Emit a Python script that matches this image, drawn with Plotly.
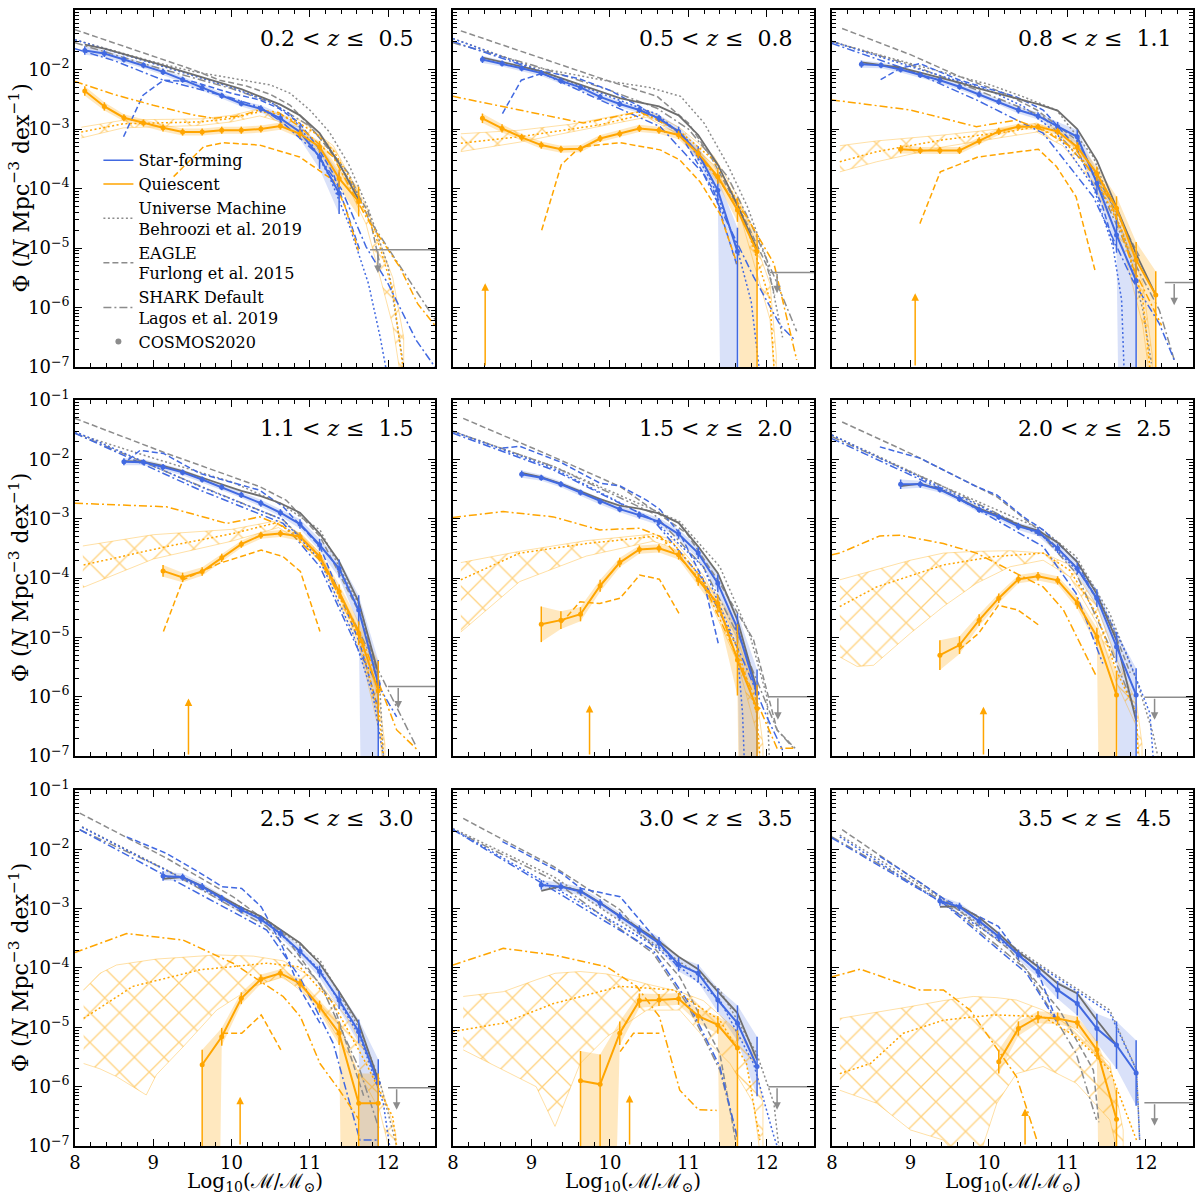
import plotly.graph_objects as go
from plotly.subplots import make_subplots

# ---------------- data (log10 Phi) ----------------
X_RANGE = [8.0, 12.6]
X_TICKS = [8, 9, 10, 11, 12]
Y_TICK_EXP = [-7, -6, -5, -4, -3, -2, -1]
M_BINS = [8.125, 8.375, 8.625, 8.875, 9.125, 9.375, 9.625, 9.875, 10.125,
          10.375, 10.625, 10.875, 11.125, 11.375, 11.625, 11.875, 12.125]
Z_LO = [0.2, 0.5, 0.8, 1.1, 1.5, 2.0, 2.5, 3.0, 3.5]
Z_HI = [0.5, 0.8, 1.1, 1.5, 2.0, 2.5, 3.0, 3.5, 4.5]

# COSMOS2020 star-forming
SF_START = [0, 1, 1, 2, 3, 3, 4, 4, 5]
SF_LOGPHI = [
    [-1.68, -1.73, -1.83, -1.93, -2.04, -2.17, -2.30, -2.44, -2.57, -2.66, -2.82, -3.05, -3.47, -4.08],
    [-1.83, -1.90, -1.98, -2.06, -2.19, -2.30, -2.46, -2.58, -2.68, -2.82, -3.04, -3.41, -4.03, -5.06],
    [-1.91, -1.93, -2.00, -2.09, -2.18, -2.29, -2.42, -2.54, -2.68, -2.78, -2.96, -3.13, -3.91, -4.78, -5.55],
    [-2.04, -2.05, -2.13, -2.22, -2.34, -2.47, -2.60, -2.74, -2.90, -3.09, -3.44, -3.84, -4.54, -5.78],
    [-2.25, -2.31, -2.42, -2.56, -2.71, -2.84, -2.94, -3.05, -3.26, -3.58, -4.09, -4.85, -5.94],
    [-2.42, -2.42, -2.51, -2.67, -2.85, -2.97, -3.13, -3.22, -3.50, -3.84, -4.34, -5.16, -5.97],
    [-2.45, -2.47, -2.63, -2.83, -3.02, -3.18, -3.42, -3.72, -4.06, -4.54, -5.07, -5.94],
    [-2.60, -2.63, -2.71, -2.91, -3.13, -3.36, -3.58, -3.94, -4.09, -4.54, -4.93, -5.66],
    [-2.87, -2.97, -3.21, -3.47, -3.78, -4.06, -4.37, -4.60, -5.02, -5.30, -5.77],
]
SF_ERR = [
    [0.07, 0.06, 0.05, 0.05, 0.05, 0.05, 0.05, 0.05, 0.05, 0.06, 0.08, 0.12, 0.20, 0.35],
    [0.06, 0.05, 0.05, 0.05, 0.05, 0.05, 0.05, 0.05, 0.05, 0.06, 0.08, 0.12, 0.20, 0.40],
    [0.06, 0.05, 0.05, 0.05, 0.05, 0.05, 0.05, 0.05, 0.06, 0.06, 0.08, 0.12, 0.20, 0.30, 0.40],
    [0.06, 0.05, 0.05, 0.05, 0.05, 0.05, 0.05, 0.06, 0.06, 0.08, 0.10, 0.15, 0.25, 0.40],
    [0.06, 0.05, 0.05, 0.05, 0.05, 0.05, 0.06, 0.06, 0.08, 0.10, 0.15, 0.25, 0.40],
    [0.08, 0.06, 0.05, 0.05, 0.05, 0.05, 0.06, 0.07, 0.08, 0.10, 0.15, 0.25, 0.45],
    [0.08, 0.06, 0.06, 0.06, 0.06, 0.06, 0.07, 0.08, 0.10, 0.15, 0.20, 0.40],
    [0.08, 0.07, 0.07, 0.07, 0.07, 0.08, 0.10, 0.12, 0.15, 0.20, 0.30, 0.50],
    [0.08, 0.07, 0.07, 0.08, 0.08, 0.10, 0.15, 0.20, 0.25, 0.40, 0.55],
]
SF_OPEN = [[], [13], [14], [13], [12], [12], [11], [], []]

# COSMOS2020 quiescent
Q_START = [0, 1, 3, 4, 4, 5, 6, 6, 8]
Q_LOGPHI = [
    [-2.36, -2.62, -2.81, -2.90, -2.98, -3.05, -3.05, -3.02, -3.02, -3.00, -2.95, -3.08, -3.30, -3.83, -4.22],
    [-2.82, -2.99, -3.14, -3.27, -3.34, -3.33, -3.16, -3.08, -2.99, -3.02, -3.10, -3.41, -3.80, -4.36, -5.06],
    [-3.34, -3.36, -3.36, -3.36, -3.20, -3.04, -2.96, -2.96, -3.04, -3.30, -3.75, -4.33, -5.20, -5.79],
    [-3.88, -3.99, -3.89, -3.66, -3.43, -3.28, -3.25, -3.30, -3.64, -4.23, -4.93, -5.90],
    [-4.78, -4.71, -4.61, -4.13, -3.74, -3.52, -3.50, -3.61, -4.03, -4.43, -5.38, -6.20],
    [-5.30, -5.13, -4.71, -4.34, -4.02, -3.97, -4.04, -4.42, -4.99, -5.97],
    [-5.63, -5.16, -4.51, -4.19, -4.09, -4.26, -4.65, -5.10, -6.28, -6.28],
    [-5.90, -5.96, -5.10, -4.55, -4.54, -4.52, -4.81, -4.96, -5.35],
    [-5.58, -5.02, -4.83, -4.85, -4.92, -5.38, -6.55],
]
Q_ERR = [
    [0.08, 0.07, 0.06, 0.06, 0.06, 0.06, 0.06, 0.06, 0.06, 0.06, 0.06, 0.07, 0.10, 0.15, 0.25],
    [0.08, 0.07, 0.06, 0.06, 0.06, 0.06, 0.06, 0.06, 0.06, 0.06, 0.07, 0.08, 0.12, 0.20, 0.30],
    [0.07, 0.06, 0.06, 0.06, 0.06, 0.06, 0.05, 0.05, 0.06, 0.08, 0.12, 0.20, 0.30, 0.40],
    [0.10, 0.08, 0.07, 0.07, 0.06, 0.06, 0.06, 0.07, 0.08, 0.12, 0.20, 0.50],
    [0.30, 0.15, 0.12, 0.10, 0.08, 0.07, 0.07, 0.08, 0.10, 0.15, 0.60, 0.40],
    [0.25, 0.15, 0.10, 0.08, 0.07, 0.07, 0.07, 0.10, 0.15, 0.40],
    [0.25, 0.15, 0.10, 0.08, 0.07, 0.08, 0.10, 0.20, 0.50, 0.50],
    [0.50, 0.50, 0.20, 0.12, 0.10, 0.10, 0.12, 0.15, 0.30],
    [0.20, 0.12, 0.10, 0.10, 0.10, 0.15, 0.50],
]
Q_OPEN = [[], [14], [13], [], [11], [9], [0, 8, 9], [0, 1, 8], [6]]

# COSMOS2020 total
TOT_START = [0, 1, 1, 2, 3, 3, 4, 4, 5]
TOT_LOGPHI = [
    [-1.58, -1.65, -1.74, -1.83, -1.93, -2.03, -2.13, -2.22, -2.33, -2.46, -2.59, -2.77, -3.07, -3.58, -4.19],
    [-1.80, -1.87, -1.95, -2.03, -2.14, -2.25, -2.37, -2.48, -2.55, -2.62, -2.77, -3.10, -3.60, -4.28, -5.03],
    [-1.88, -1.92, -1.97, -2.05, -2.13, -2.22, -2.32, -2.41, -2.49, -2.58, -2.69, -3.00, -3.53, -4.32, -5.10, -5.79],
    [-2.03, -2.04, -2.11, -2.20, -2.31, -2.42, -2.53, -2.62, -2.74, -2.90, -3.25, -3.72, -4.40, -5.60],
    [-2.23, -2.30, -2.41, -2.54, -2.67, -2.78, -2.83, -2.91, -3.07, -3.47, -3.92, -4.71, -5.89],
    [-2.45, -2.41, -2.50, -2.66, -2.83, -2.95, -3.10, -3.20, -3.40, -3.73, -4.27, -5.05, -6.40],
    [-2.50, -2.47, -2.62, -2.80, -2.98, -3.13, -3.36, -3.58, -3.92, -4.40, -4.93, -5.89],
    [-2.70, -2.62, -2.70, -2.90, -3.12, -3.34, -3.55, -3.81, -4.02, -4.40, -4.76, -5.55],
    [-2.97, -2.96, -3.15, -3.42, -3.73, -3.98, -4.26, -4.43, -4.88, -5.30],
]

# Universe Machine (Behroozi+19): (mass, log phi) per panel
UM_TOT = [
    ([8.0, 8.5, 9.0, 9.5, 10.0, 10.5, 10.75, 11.0, 11.25, 11.5, 11.75, 12.0, 12.2],
     [-1.50, -1.68, -1.87, -2.03, -2.15, -2.26, -2.40, -2.68, -3.05, -3.60, -4.35, -5.30, -7.0]),
    ([8.0, 9.0, 10.0, 10.5, 10.9, 11.2, 11.5, 11.75, 12.0, 12.2],
     [-1.48, -1.95, -2.20, -2.30, -2.45, -2.90, -3.60, -4.30, -5.20, -6.50]),
    ([8.0, 9.0, 10.0, 10.44, 10.86, 11.33, 11.75, 11.96, 12.07],
     [-1.53, -1.90, -2.25, -2.46, -2.68, -3.47, -4.92, -6.04, -6.94]),
    ([8.0, 9.0, 10.0, 10.62, 11.13, 11.64, 11.89, 11.94],
     [-1.56, -1.98, -2.38, -2.74, -3.19, -4.48, -5.72, -7.0]),
    ([8.0, 9.28, 10.55, 10.89, 11.4, 11.79, 12.0, 12.03],
     [-1.53, -2.12, -2.85, -3.05, -3.81, -4.99, -6.00, -7.0]),
    ([8.0, 9.42, 10.69, 11.11, 11.54, 11.88, 12.09, 12.15],
     [-1.59, -2.46, -3.19, -3.64, -4.60, -5.72, -6.62, -7.0]),
    ([8.09, 9.17, 10.45, 11.13, 11.64, 11.89, 12.11],
     [-1.62, -2.35, -3.19, -3.87, -5.04, -5.89, -7.0]),
    ([8.0, 9.28, 10.55, 11.4, 11.87, 12.09, 12.15],
     [-1.65, -2.46, -3.58, -4.37, -5.44, -6.28, -7.0]),
    ([8.1, 9.42, 10.69, 11.54, 11.88, 11.92],
     [-1.76, -2.85, -3.98, -4.71, -5.72, -6.90]),
]
UM_SF = [
    ([8.0, 8.5, 9.0, 9.5, 10.0, 10.5, 10.75, 11.0, 11.25, 11.5, 11.75, 11.9, 11.97],
     [-1.50, -1.70, -1.90, -2.10, -2.30, -2.55, -2.75, -3.20, -3.80, -4.60, -5.60, -6.50, -7.0]),
    ([8.0, 9.0, 10.0, 10.6, 11.0, 11.3, 11.6, 11.8, 11.9],
     [-1.48, -1.97, -2.45, -2.75, -3.20, -3.90, -4.90, -5.90, -7.0]),
    ([8.0, 9.0, 10.0, 10.44, 10.86, 11.33, 11.58, 11.69, 11.72],
     [-1.53, -1.95, -2.35, -2.62, -3.07, -3.97, -4.98, -5.87, -7.0]),
    ([8.0, 9.6, 10.66, 11.13, 11.55, 11.81, 11.94],
     [-1.53, -2.46, -3.02, -3.70, -4.93, -6.00, -7.0]),
    ([8.0, 9.28, 10.55, 11.19, 11.62, 11.69, 11.71],
     [-1.53, -2.15, -3.02, -3.81, -5.16, -6.28, -7.0]),
    ([8.0, 10.69, 11.33, 11.75, 12.05, 12.09],
     [-1.59, -3.30, -4.15, -5.27, -6.28, -7.0]),
    ([8.09, 10.45, 11.13, 11.64, 11.94, 12.02],
     [-1.63, -3.22, -4.03, -5.16, -6.28, -7.0]),
    ([8.0, 10.55, 11.4, 11.83, 12.09, 12.13],
     [-1.66, -3.61, -4.54, -5.61, -6.84, -7.0]),
    ([8.1, 10.69, 11.54, 11.88, 11.92],
     [-1.79, -4.01, -4.76, -5.72, -6.90]),
]
UM_Q = [
    ([8.08, 8.62, 9.0, 9.6, 10.0, 10.36, 10.6, 10.87, 11.1, 11.3, 11.5, 11.72, 11.9, 12.06, 12.19],
     [-3.05, -2.91, -2.90, -2.88, -2.82, -2.71, -2.75, -2.90, -3.10, -3.36, -3.80, -4.42, -5.00, -5.71, -7.0]),
    ([8.1, 8.85, 9.87, 10.47, 10.89, 11.32, 11.66, 12.04, 12.09],
     [-3.24, -3.13, -2.93, -2.74, -3.04, -3.52, -4.30, -5.87, -7.0]),
    ([8.1, 8.57, 9.42, 10.27, 10.61, 10.94, 11.33, 11.71, 11.96, 12.05],
     [-3.55, -3.38, -3.18, -3.04, -2.96, -3.18, -3.75, -4.75, -5.87, -7.0]),
    ([8.11, 9.17, 10.02, 10.57, 10.87, 11.13, 11.64, 11.89, 11.94],
     [-3.78, -3.47, -3.25, -3.07, -3.30, -3.64, -5.04, -6.34, -7.0]),
    ([8.1, 8.85, 9.7, 10.55, 10.81, 11.19, 11.62, 11.87, 11.91],
     [-4.03, -3.58, -3.42, -3.30, -3.42, -4.03, -5.16, -6.28, -7.0]),
    ([8.1, 8.57, 9.42, 10.05, 10.69, 11.03, 11.37, 11.62, 11.88, 11.9],
     [-4.48, -4.15, -3.78, -3.64, -3.58, -3.87, -4.60, -5.55, -6.28, -7.0]),
    ([8.11, 8.74, 9.6, 10.45, 10.87, 11.3, 11.72, 12.06, 12.11],
     [-4.85, -4.31, -4.03, -3.92, -3.98, -4.60, -5.61, -6.51, -7.0]),
    ([8.0, 8.64, 9.28, 10.13, 10.81, 11.4, 11.74, 11.91],
     [-5.07, -4.93, -4.60, -4.31, -4.37, -4.88, -5.61, -6.90]),
    ([8.1, 8.49, 8.91, 9.42, 10.06, 10.69, 11.11, 11.54, 11.88],
     [-5.78, -5.61, -5.10, -4.88, -4.79, -4.82, -5.16, -5.72, -6.90]),
]
# Universe Machine quiescent uncertainty (hatched): mass, upper, lower
UMQ_BAND_M = [
    [8.08, 8.62, 9.0, 9.6, 10.0, 10.36, 10.87, 11.3, 11.72, 12.06, 12.2],
    [8.1, 8.85, 9.5, 10.47, 10.89, 11.32, 11.66, 12.04, 12.12],
    [8.1, 8.57, 9.42, 10.27, 10.61, 10.94, 11.33, 11.71, 11.96, 12.08],
    [8.1, 9.0, 10.0, 10.6, 10.87, 11.13, 11.64, 11.89, 11.96],
    [8.1, 8.85, 9.7, 10.55, 10.81, 11.19, 11.62, 11.87, 11.95],
    [8.1, 8.32, 8.53, 9.0, 9.42, 9.84, 10.27, 10.69, 11.03, 11.37, 11.62, 11.88, 11.95],
    [8.11, 8.32, 8.53, 8.91, 9.04, 9.38, 9.81, 10.28, 10.66, 11.09, 11.51, 11.89, 12.1],
    [8.13, 8.64, 9.06, 9.3, 9.62, 9.96, 10.13, 10.47, 10.89, 11.19, 11.53, 11.83, 11.95],
    [8.1, 8.57, 9.0, 9.42, 9.8, 10.1, 10.35, 10.69, 11.11, 11.54, 11.71],
]
UMQ_BAND_HI = [
    [-2.97, -2.85, -2.84, -2.83, -2.77, -2.66, -2.85, -3.28, -4.30, -5.50, -6.50],
    [-3.08, -3.02, -2.92, -2.68, -2.98, -3.45, -4.20, -5.60, -6.80],
    [-3.28, -3.20, -3.10, -2.98, -2.90, -3.10, -3.65, -4.60, -5.60, -6.80],
    [-3.46, -3.27, -3.18, -3.03, -3.25, -3.58, -4.90, -6.10, -6.80],
    [-3.74, -3.55, -3.37, -3.26, -3.36, -3.95, -5.00, -6.00, -6.80],
    [-4.03, -3.95, -3.87, -3.70, -3.58, -3.55, -3.54, -3.58, -3.78, -4.45, -5.35, -6.10, -6.80],
    [-4.37, -4.09, -3.95, -3.87, -3.85, -3.82, -3.78, -3.80, -3.88, -4.20, -4.90, -5.90, -6.80],
    [-4.48, -4.40, -4.20, -4.09, -4.06, -4.10, -4.15, -4.27, -4.40, -4.55, -4.95, -5.44, -6.30],
    [-4.85, -4.75, -4.65, -4.55, -4.48, -4.50, -4.54, -4.71, -5.04, -5.61, -6.73],
]
UMQ_BAND_LO = [
    [-3.15, -2.98, -2.97, -2.94, -2.88, -2.78, -2.97, -3.45, -4.60, -6.30, -7.50],
    [-3.38, -3.22, -3.05, -2.80, -3.10, -3.60, -4.45, -6.20, -7.50],
    [-3.72, -3.55, -3.30, -3.12, -3.05, -3.28, -3.90, -5.00, -6.30, -7.50],
    [-4.16, -3.68, -3.38, -3.15, -3.37, -3.72, -5.20, -6.60, -7.50],
    [-4.91, -4.06, -3.63, -3.38, -3.50, -4.15, -5.40, -6.60, -7.50],
    [-5.33, -5.49, -5.47, -4.93, -4.48, -4.09, -3.81, -3.70, -3.98, -4.75, -5.75, -6.50, -7.50],
    [-5.61, -5.70, -5.83, -6.14, -5.80, -5.33, -4.71, -4.31, -4.15, -4.60, -5.49, -6.39, -7.50],
    [-5.38, -5.72, -6.00, -6.67, -5.61, -5.16, -5.00, -4.71, -4.71, -5.16, -5.61, -6.28, -7.50],
    [-6.06, -6.28, -6.73, -6.90, -7.50, -6.28, -5.78, -5.66, -5.94, -6.56, -7.50],
]

# EAGLE (Furlong+15)
EAGLE_TOT = [
    ([8.0, 8.5, 9.0, 9.5, 9.85, 10.2, 10.5, 10.75, 11.0, 11.25, 11.5, 11.75, 11.9],
     [-1.33, -1.55, -1.78, -2.00, -2.18, -2.28, -2.42, -2.60, -2.95, -3.35, -3.85, -4.40, -5.30]),
    ([8.1, 9.0, 10.0, 10.6, 11.0, 11.3, 11.5, 11.75, 12.0, 12.1],
     [-1.35, -1.75, -2.20, -2.45, -2.90, -3.50, -4.00, -4.60, -5.30, -5.80]),
    ([8.13, 9.0, 9.63, 10.2, 10.61, 11.11, 11.54, 11.92],
     [-1.31, -1.75, -2.12, -2.40, -2.68, -3.18, -4.19, -5.15]),
    ([8.0, 9.17, 10.36, 10.7, 11.13, 11.64, 11.89],
     [-1.31, -1.90, -2.46, -2.69, -3.30, -4.60, -5.72]),
    ([8.13, 9.28, 10.13, 10.55, 10.98, 11.4, 11.83, 12.13, 12.36],
     [-1.31, -1.96, -2.46, -2.85, -3.25, -4.09, -5.04, -6.56, -6.87]),
    ([8.13, 9.0, 10.1, 10.69, 11.11, 11.54, 11.8],
     [-1.37, -1.90, -2.63, -3.25, -3.81, -4.71, -5.60]),
    ([8.06, 9.17, 10.02, 10.66, 11.3, 11.7],
     [-1.39, -2.15, -2.80, -3.42, -4.60, -6.20]),
    ([8.13, 9.28, 10.13, 10.89, 11.4, 11.6],
     [-1.48, -2.29, -3.02, -4.15, -5.44, -6.90]),
    ([8.13, 9.42, 10.27, 10.9, 11.33, 11.4],
     [-1.67, -2.83, -3.70, -4.71, -5.72, -6.60]),
]
EAGLE_SF = [
    ([8.62, 8.87, 9.13, 9.5, 10.0, 10.36, 10.6, 10.87, 11.1, 11.3, 11.45, 11.64],
     [-3.13, -2.43, -2.18, -2.20, -2.40, -2.51, -2.65, -2.90, -3.30, -3.75, -4.30, -5.04]),
    ([8.63, 8.87, 9.19, 9.6, 10.0, 10.38, 10.89, 11.32, 11.62],
     [-2.74, -2.18, -2.04, -2.15, -2.35, -2.62, -3.07, -4.03, -5.30]),
    ([8.62, 8.87, 9.12, 9.63, 10.35, 10.69, 11.11, 11.45, 11.6],
     [-2.17, -1.98, -1.90, -2.18, -2.46, -2.68, -3.30, -4.31, -4.98]),
    ([8.68, 8.83, 9.13, 9.6, 10.36, 10.66, 11.13, 11.64, 11.89],
     [-2.01, -1.85, -1.90, -2.24, -2.52, -2.80, -3.47, -5.10, -6.28]),
    ([8.63, 8.85, 9.36, 9.87, 10.13, 10.47, 10.64, 10.89, 11.19, 11.38],
     [-1.81, -1.78, -2.04, -2.40, -2.45, -2.69, -2.85, -3.25, -4.03, -5.10]),
    ([8.61, 9.12, 9.84, 10.1, 10.44, 10.69, 11.11, 11.37],
     [-1.79, -1.98, -2.46, -2.60, -2.97, -3.19, -3.70, -4.37]),
    ([8.66, 9.17, 9.6, 9.88, 10.13, 10.38, 10.63, 10.88, 11.13],
     [-1.79, -2.07, -2.40, -2.63, -2.66, -2.97, -3.58, -4.37, -4.93]),
    ([8.63, 9.38, 9.63, 10.13, 10.63, 10.89],
     [-1.87, -2.40, -2.66, -2.80, -3.58, -4.03]),
    ([8.61, 9.08, 9.42, 9.84, 10.12, 10.37, 10.63, 10.86],
     [-2.12, -2.52, -2.83, -3.11, -3.30, -3.75, -4.09, -4.88]),
]
EAGLE_Q = [
    ([9.26, 9.64, 9.89, 10.36, 10.87, 11.3, 11.45, 11.62],
     [-3.80, -3.30, -3.23, -3.27, -3.47, -3.86, -4.30, -5.04]),
    ([9.13, 9.38, 9.62, 10.13, 10.64, 10.89, 11.15, 11.4, 11.62],
     [-4.70, -3.60, -3.30, -3.23, -3.35, -3.52, -3.89, -4.42, -5.26]),
    ([9.12, 9.38, 9.86, 10.63, 10.86, 11.11, 11.35],
     [-4.59, -3.72, -3.47, -3.34, -3.63, -4.14, -5.37]),
    ([9.13, 9.38, 9.85, 10.38, 10.66, 10.88, 11.13],
     [-4.90, -4.03, -3.75, -3.53, -3.64, -3.89, -4.90]),
    ([9.38, 9.62, 9.87, 10.13, 10.38, 10.63, 10.89],
     [-4.76, -4.40, -4.43, -4.34, -3.95, -4.02, -4.62]),
    ([9.62, 9.87, 10.12, 10.37, 10.63],
     [-5.21, -4.93, -4.46, -4.54, -4.79]),
    ([9.88, 10.13, 10.38, 10.63],
     [-5.10, -5.10, -4.79, -5.38]),
    ([10.13, 10.3, 10.63],
     [-5.41, -5.10, -5.10]),
    ([], []),
]

# SHARK default (Lagos+19)
SHARK_TOT = [
    ([8.0, 9.0, 10.0, 10.5, 11.0, 11.5, 11.75, 12.05, 12.35, 12.6],
     [-1.55, -1.95, -2.32, -2.55, -2.95, -3.75, -4.50, -5.10, -5.70, -6.20]),
    ([8.0, 9.0, 10.0, 10.6, 11.0, 11.5, 11.8, 12.1, 12.38],
     [-1.55, -1.92, -2.35, -2.65, -3.00, -3.80, -4.60, -5.50, -6.40]),
    ([8.0, 9.0, 9.84, 10.69, 11.33, 11.79, 12.17, 12.36],
     [-1.53, -1.92, -2.34, -2.79, -3.75, -5.09, -6.04, -6.88]),
    ([8.0, 9.6, 10.66, 11.13, 11.64, 11.98, 12.36],
     [-1.56, -2.45, -3.02, -3.64, -4.93, -5.83, -6.84]),
    ([8.0, 9.28, 10.55, 11.19, 11.66, 12.13, 12.34],
     [-1.53, -2.12, -2.91, -3.81, -5.04, -6.56, -6.87]),
    ([8.0, 9.42, 10.69, 11.11, 11.54, 11.88],
     [-1.62, -2.46, -3.30, -3.92, -5.16, -6.28]),
    ([8.06, 9.17, 10.45, 11.13, 11.64, 11.89],
     [-1.67, -2.35, -3.30, -4.26, -5.72, -6.73]),
    ([8.0, 9.28, 10.55, 10.98, 11.4, 11.62],
     [-1.67, -2.52, -3.75, -4.60, -5.72, -6.84]),
    ([8.0, 9.42, 10.48, 11.11, 11.37],
     [-1.79, -2.88, -4.03, -5.44, -6.56]),
]
SHARK_SF = [
    ([8.0, 8.5, 9.13, 9.5, 10.0, 10.36, 10.66, 11.09, 11.4, 11.72, 12.0, 12.36, 12.6],
     [-1.65, -1.85, -2.18, -2.30, -2.48, -2.63, -2.90, -3.41, -4.00, -4.98, -5.60, -6.55, -7.0]),
    ([8.0, 9.0, 9.87, 10.64, 11.19, 11.83, 12.17, 12.36],
     [-1.53, -1.98, -2.51, -2.96, -3.75, -5.48, -6.30, -6.55]),
    ([8.0, 9.0, 9.84, 10.69, 11.33, 11.83, 12.17, 12.36],
     [-1.56, -2.02, -2.51, -3.07, -4.14, -5.54, -6.27, -6.88]),
    ([8.0, 9.6, 10.66, 11.13, 11.64, 12.11],
     [-1.56, -2.52, -3.08, -3.81, -5.27, -6.34]),
    ([8.0, 9.28, 10.55, 11.19, 11.66, 12.0, 12.2],
     [-1.56, -2.18, -3.02, -4.03, -5.27, -6.34, -6.90]),
    ([8.0, 9.42, 10.69, 11.11, 11.45],
     [-1.65, -2.52, -3.47, -4.26, -5.44]),
    ([8.06, 10.45, 10.87, 11.3, 11.64, 11.88],
     [-1.67, -3.36, -4.15, -5.27, -6.90, -6.90]),
    ([8.0, 10.55, 10.98, 11.4, 11.62],
     [-1.67, -3.70, -4.54, -5.66, -6.84]),
    ([8.0, 9.42, 10.48, 10.86],
     [-1.81, -2.91, -4.09, -4.90]),
]
SHARK_Q = [
    ([8.0, 8.5, 9.0, 9.5, 9.77, 10.1, 10.36, 10.6, 10.87, 11.3, 11.72, 12.15, 12.38, 12.6],
     [-2.20, -2.42, -2.60, -2.76, -2.82, -2.78, -2.68, -2.72, -2.96, -3.47, -4.48, -5.32, -5.94, -6.30]),
    ([8.0, 8.85, 9.66, 10.38, 10.89, 11.32, 11.74, 12.09, 12.38],
     [-2.45, -2.68, -2.90, -2.71, -3.04, -3.75, -4.47, -5.26, -6.88]),
    ([8.0, 9.0, 9.84, 10.35, 10.69, 11.11, 11.54, 11.83, 12.2],
     [-2.51, -2.68, -2.96, -2.85, -3.02, -3.35, -4.19, -5.31, -6.30]),
    ([8.0, 9.17, 9.94, 10.36, 10.66, 11.13, 11.64, 12.11, 12.38],
     [-2.74, -2.80, -3.08, -2.97, -3.13, -3.70, -4.93, -6.56, -6.90]),
    ([8.0, 8.64, 9.28, 9.87, 10.38, 10.64, 11.19, 11.66, 12.13, 12.36],
     [-2.98, -2.88, -2.97, -3.19, -3.16, -3.30, -4.09, -5.44, -6.87, -6.87]),
    ([8.0, 8.1, 8.61, 8.87, 9.42, 9.84, 10.27, 10.69, 10.95, 11.37],
     [-3.61, -3.58, -3.29, -3.28, -3.42, -3.58, -3.87, -4.15, -4.54, -5.66]),
    ([8.0, 8.66, 9.38, 10.02, 10.66, 10.88, 11.13, 11.38, 11.63],
     [-3.74, -3.42, -3.53, -3.92, -4.48, -4.82, -5.61, -6.06, -6.56]),
    ([8.0, 8.64, 9.28, 9.96, 10.34, 10.63, 10.89, 11.13, 11.36],
     [-3.95, -3.67, -3.78, -3.98, -4.31, -4.82, -6.06, -6.39, -6.40]),
    ([8.0, 8.36, 9.12, 9.42, 9.76, 10.06, 10.35, 10.61],
     [-4.15, -4.02, -4.37, -4.37, -4.71, -5.27, -5.83, -6.90]),
]

# upper limits (grey) and quiescent completeness arrows (orange)
UL_M = [11.77, 12.04, 12.24, 12.0, 12.02, 11.98, 12.0, 12.02, 11.98]
UL_LOGPHI = [-5.03, -5.41, -5.58, -5.83, -6.0, -6.01, -6.02, -6.0, -6.27]
UL_ARROW_M = [11.87, 12.13, 12.36, 12.13, 12.14, 12.11, 12.11, 12.13, 12.11]
UL_ARROW_END = [-5.42, -5.76, -5.96, -6.2, -6.39, -6.39, -6.39, -6.39, -6.66]
QA_M = [None, 8.41, 9.06, 9.45, 9.74, 9.93, 10.11, 10.25, 10.46]
QA_TOP = [None, -5.59, -5.76, -6.03, -6.14, -6.17, -6.17, -6.14, -6.37]

# ---------------- styling ----------------
BLUE = "#4169e1"
ORANGE = "#ffa500"
GREY = "#8c8c8c"
DARK = "#6e6e6e"
FONT = "DejaVu Serif"
DOT = "2px,2.5px"
DASH = "6px,3px"
DASHDOT = "8px,3px,2px,3px"
OPEN_LOW = -30.0

X_DOM = [[0.0625, 0.3625], [0.3775, 0.6783], [0.6933, 0.9942]]
Y_DOM = [[0.6926, 0.9916], [0.3668, 0.6650], [0.0402, 0.3384]]


def lin(vals):
    return [10 ** v for v in vals]


fig = make_subplots(rows=3, cols=3)


def add(trace, r, c):
    fig.add_trace(trace, row=r, col=c)


for p in range(9):
    r, c = p // 3 + 1, p % 3 + 1
    n = p + 1
    xr = "x" if n == 1 else f"x{n}"
    yr = "y" if n == 1 else f"y{n}"

    # error bands of the COSMOS2020 measurements
    for start, ys, errs, opens, fill in [
        (SF_START[p], SF_LOGPHI[p], SF_ERR[p], SF_OPEN[p], "rgba(65,105,225,0.20)"),
        (Q_START[p], Q_LOGPHI[p], Q_ERR[p], Q_OPEN[p], "rgba(255,165,0,0.25)"),
    ]:
        m = M_BINS[start:start + len(ys)]
        hi = [y + e for y, e in zip(ys, errs)]
        lo = [OPEN_LOW if i in opens else y - e for i, (y, e) in enumerate(zip(ys, errs))]
        add(go.Scatter(x=m + m[::-1], y=lin(hi + lo[::-1]), mode="lines", fill="toself",
                       fillcolor=fill, line=dict(width=0), showlegend=False, hoverinfo="skip"), r, c)

    # Universe Machine quiescent hatched band
    bm = UMQ_BAND_M[p]
    add(go.Scatter(x=bm + bm[::-1], y=lin(UMQ_BAND_HI[p] + UMQ_BAND_LO[p][::-1]),
                   mode="lines", fill="toself", fillcolor="rgba(255,255,255,0)",
                   fillpattern=dict(shape="x", fgcolor=ORANGE, bgcolor="rgba(255,255,255,0)",
                                    size=21, solidity=0.12),
                   line=dict(color="rgba(255,165,0,0.35)", width=1),
                   showlegend=False, hoverinfo="skip"), r, c)

    # simulation / model curves
    for model, color, dash in [
        (UM_TOT, GREY, DOT), (EAGLE_TOT, GREY, DASH), (SHARK_TOT, GREY, DASHDOT),
        (UM_SF, BLUE, DOT), (EAGLE_SF, BLUE, DASH), (SHARK_SF, BLUE, DASHDOT),
        (UM_Q, ORANGE, DOT), (EAGLE_Q, ORANGE, DASH), (SHARK_Q, ORANGE, DASHDOT),
    ]:
        mm, yy = model[p]
        if not mm:
            continue
        add(go.Scatter(x=mm, y=lin(yy), mode="lines", line=dict(color=color, width=1.5, dash=dash),
                       showlegend=False, hoverinfo="skip"), r, c)

    # COSMOS2020 total
    tm = M_BINS[TOT_START[p]:TOT_START[p] + len(TOT_LOGPHI[p])]
    add(go.Scatter(x=tm, y=lin(TOT_LOGPHI[p]), mode="lines", line=dict(color=DARK, width=1.8),
                   showlegend=False), r, c)

    # COSMOS2020 SF and Q points
    for start, ys, errs, opens, color in [
        (SF_START[p], SF_LOGPHI[p], SF_ERR[p], SF_OPEN[p], BLUE),
        (Q_START[p], Q_LOGPHI[p], Q_ERR[p], Q_OPEN[p], ORANGE),
    ]:
        m = M_BINS[start:start + len(ys)]
        up = [10 ** (y + e) - 10 ** y for y, e in zip(ys, errs)]
        dn = [10 ** y - 10 ** ((OPEN_LOW if i in opens else y - e))
              for i, (y, e) in enumerate(zip(ys, errs))]
        add(go.Scatter(x=m, y=lin(ys), mode="lines+markers",
                       line=dict(color=color, width=2),
                       marker=dict(color=color, size=5),
                       error_y=dict(type="data", symmetric=False, array=up, arrayminus=dn,
                                    color=color, thickness=1.5, width=0),
                       showlegend=False), r, c)

    # grey upper limit
    add(go.Scatter(x=[UL_M[p], X_RANGE[1]], y=lin([UL_LOGPHI[p], UL_LOGPHI[p]]), mode="lines",
                   line=dict(color=GREY, width=1.5), showlegend=False), r, c)
    fig.add_annotation(x=UL_ARROW_M[p], y=UL_ARROW_END[p], ax=UL_ARROW_M[p], ay=UL_LOGPHI[p],
                       xref=xr, yref=yr, axref=xr, ayref=yr, text="", showarrow=True,
                       arrowhead=2, arrowsize=1, arrowwidth=1.5, arrowcolor=GREY)
    # orange completeness arrow
    if QA_M[p] is not None:
        fig.add_annotation(x=QA_M[p], y=QA_TOP[p], ax=QA_M[p], ay=Y_TICK_EXP[0],
                           xref=xr, yref=yr, axref=xr, ayref=yr, text="", showarrow=True,
                           arrowhead=2, arrowsize=1, arrowwidth=1.5, arrowcolor=ORANGE)

    # redshift label
    fig.add_annotation(x=0.945, y=0.92, xref=f"{xr} domain", yref=f"{yr} domain",
                       xanchor="right", yanchor="middle", showarrow=False,
                       text=f"{Z_LO[p]:.1f} &lt; <i>z</i> ≤  {Z_HI[p]:.1f}",
                       font=dict(family=FONT, size=22, color="black"))

    ax_common = dict(showline=True, linecolor="black", linewidth=1.5, mirror="allticks",
                     ticks="inside", ticklen=7, tickwidth=1.2, tickcolor="black",
                     showgrid=False, zeroline=False, automargin=False,
                     tickfont=dict(family=FONT, size=18, color="black"))
    fig.update_xaxes(range=X_RANGE, tickvals=X_TICKS,
                     minor=dict(ticks="inside", ticklen=4, tickcolor="black", dtick=0.2, tick0=8),
                     showticklabels=(r == 3), domain=X_DOM[c - 1], row=r, col=c, **ax_common)
    fig.update_yaxes(type="log", range=[Y_TICK_EXP[0], Y_TICK_EXP[-1]],
                     tickvals=[10 ** e for e in Y_TICK_EXP],
                     ticktext=[f"10<sup>−{-e}</sup>" for e in Y_TICK_EXP],
                     minor=dict(ticks="inside", ticklen=4, tickcolor="black", dtick="D1"),
                     showticklabels=(c == 1), domain=Y_DOM[r - 1], row=r, col=c, **ax_common)
    if c == 1:
        fig.add_annotation(x=19 / 1200, y=0.5, xref="paper", yref=f"{yr} domain",
                           xanchor="center", yanchor="middle", showarrow=False, textangle=-90,
                           text="Φ (<i>N</i> Mpc<sup>−3</sup> dex<sup>−1</sup>)",
                           font=dict(family=FONT, size=22, color="black"))
    if r == 3:
        fig.add_annotation(x=0.5, y=0, xref=f"{xr} domain", yref="paper",
                           xanchor="center", yanchor="bottom", yshift=-3, showarrow=False,
                           text="Log<sub>10</sub>(ℳ/ℳ<sub>⊙</sub>)",
                           font=dict(family=FONT, size=20, color="black"))

# legend entries (panel 1)
for name, color, dash, mode in [
    ("Star-forming", BLUE, "solid", "lines"),
    ("Quiescent", ORANGE, "solid", "lines"),
    ("Universe Machine<br>Behroozi et al. 2019", GREY, DOT, "lines"),
    ("EAGLE<br>Furlong et al. 2015", GREY, DASH, "lines"),
    ("SHARK Default<br>Lagos et al. 2019", GREY, DASHDOT, "lines"),
    ("COSMOS2020", GREY, "solid", "markers"),
]:
    add(go.Scatter(x=[None], y=[None], mode=mode, name=name,
                   line=dict(color=color, width=1.5, dash=dash),
                   marker=dict(color=color, size=6, symbol="circle")), 1, 1)

fig.update_layout(
    width=1200, height=1194, margin=dict(l=0, r=0, t=0, b=0),
    plot_bgcolor="white", paper_bgcolor="white",
    font=dict(family=FONT, color="black"),
    legend=dict(x=0.082, y=0.88, xanchor="left", yanchor="top", bgcolor="rgba(0,0,0,0)",
                font=dict(family=FONT, size=16, color="black"), traceorder="normal"),
)

# the page body has a default 8px margin; remove it so the figure fills the window
fig.write_html("out.html", config={"displayModeBar": False},
               post_script="document.body.style.margin = '0';")
